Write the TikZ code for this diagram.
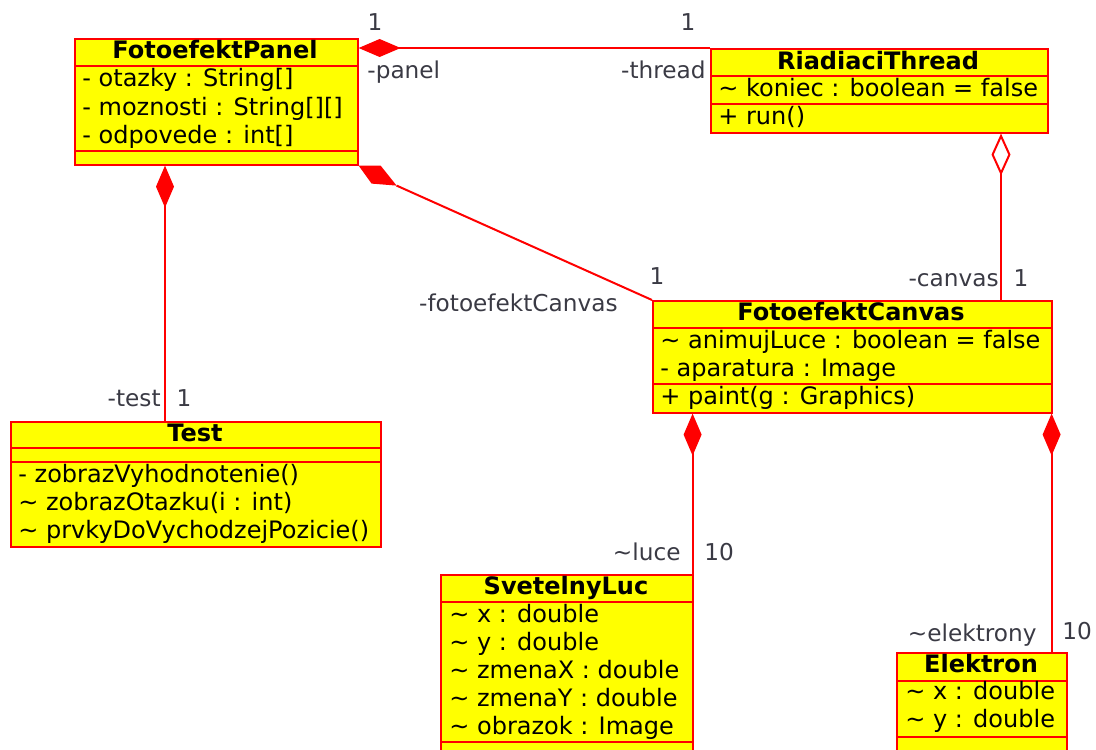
\documentclass[tikz,border=0pt]{standalone}
\usepackage{fontspec}
\setmainfont{DejaVu Sans}
\usetikzlibrary{arrows.meta,calc}
\definecolor{umlred}{RGB}{255,0,0}
\definecolor{umlfill}{RGB}{255,255,0}
\definecolor{rolegray}{RGB}{58,58,68}

\begin{document}
\begin{tikzpicture}[x=0.5pt,y=-0.5pt,
  classbox/.style={draw=umlred,fill=umlfill,line width=0.8pt,inner sep=0pt,anchor=north west,rectangle},
  divider/.style={draw=umlred,line width=0.8pt},
  member/.style={anchor=base west,inner sep=0pt,font=\fontsize{12}{14}\selectfont,text=black},
  cname/.style={anchor=base,inner sep=0pt,font=\fontsize{12}{14}\selectfont\bfseries,text=black},
  role/.style={inner sep=0pt,font=\fontsize{11.6}{14}\selectfont,text=rolegray},
  link/.style={color=umlred,draw=umlred,line width=1pt},
  comp/.style={link,{Diamond[length=21pt,width=9pt,fill=umlred]}-},
  aggr/.style={link,{Diamond[open,length=21pt,width=9.5pt]}-},
]
\useasboundingbox (0,0) rectangle (1096,749);
\clip (0,0) rectangle (1096,749);

% ---------- FotoefektPanel ----------
\node[classbox,minimum width=141.5pt,minimum height=63pt] (panel) at (74,38) {};
\draw[divider] ($(panel.north west)+(0,28)$) -- ($(panel.north east)+(0,28)$);
\draw[divider] ($(panel.north west)+(0,113)$) -- ($(panel.north east)+(0,113)$);
\node[cname] (panel-n) at (215,59) {FotoefektPanel};
\node[member] (panel-a1) at (82,87) {- otazky : String[]};
\node[member] (panel-a2) at (82,115) {- moznosti : String[][]};
\node[member] (panel-a3) at (82,143) {- odpovede : int[]};

% ---------- RiadiaciThread ----------
\node[classbox,minimum width=168.5pt,minimum height=42pt] (thread) at (710,48) {};
\draw[divider] ($(thread.north west)+(0,28)$) -- ($(thread.north east)+(0,28)$);
\draw[divider] ($(thread.north west)+(0,56)$) -- ($(thread.north east)+(0,56)$);
\node[cname] (thread-n) at (878,69) {RiadiaciThread};
\node[member] (thread-a1) at (718,97) {\textasciitilde{} koniec : boolean = false};
\node[member] (thread-m1) at (718,125) {+ run()};

% ---------- FotoefektCanvas ----------
\node[classbox,minimum width=199.5pt,minimum height=56pt] (canvas) at (652,300) {};
\draw[divider] ($(canvas.north west)+(0,28)$) -- ($(canvas.north east)+(0,28)$);
\draw[divider] ($(canvas.north west)+(0,84)$) -- ($(canvas.north east)+(0,84)$);
\node[cname] (canvas-n) at (851,320) {FotoefektCanvas};
\node[member] (canvas-a1) at (660,348) {\textasciitilde{} animujLuce : boolean = false};
\node[member] (canvas-a2) at (660,376) {- aparatura : Image};
\node[member] (canvas-m1) at (660,404) {+ paint(g : Graphics)};

% ---------- Test ----------
\node[classbox,minimum width=185pt,minimum height=62.5pt] (test) at (10,421) {};
\draw[divider] ($(test.north west)+(0,27)$) -- ($(test.north east)+(0,27)$);
\draw[divider] ($(test.north west)+(0,41)$) -- ($(test.north east)+(0,41)$);
\node[cname] (test-n) at (195,441) {Test};
\node[member] (test-m1) at (18,482) {- zobrazVyhodnotenie()};
\node[member] (test-m2) at (18,510) {\textasciitilde{} zobrazOtazku(i : int)};
\node[member] (test-m3) at (18,538) {\textasciitilde{} prvkyDoVychodzejPozicie()};

% ---------- SvetelnyLuc ----------
\node[classbox,minimum width=126pt,minimum height=100pt] (luc) at (440,574) {};
\draw[divider] ($(luc.north west)+(0,28)$) -- ($(luc.north east)+(0,28)$);
\draw[divider] ($(luc.north west)+(0,168)$) -- ($(luc.north east)+(0,168)$);
\node[cname] (luc-n) at (566,594) {SvetelnyLuc};
\node[member] (luc-a1) at (449,622) {\textasciitilde{} x : double};
\node[member] (luc-a2) at (449,650) {\textasciitilde{} y : double};
\node[member] (luc-a3) at (449,678) {\textasciitilde{} zmenaX : double};
\node[member] (luc-a4) at (449,706) {\textasciitilde{} zmenaY : double};
\node[member] (luc-a5) at (449,734) {\textasciitilde{} obrazok : Image};

% ---------- Elektron ----------
\node[classbox,minimum width=85pt,minimum height=65pt] (elektron) at (896,652) {};
\draw[divider] ($(elektron.north west)+(0,29)$) -- ($(elektron.north east)+(0,29)$);
\draw[divider] ($(elektron.north west)+(0,85)$) -- ($(elektron.north east)+(0,85)$);
\node[cname] (elektron-n) at (981,672) {Elektron};
\node[member] (elektron-a1) at (905,699) {\textasciitilde{} x : double};
\node[member] (elektron-a2) at (905,727) {\textasciitilde{} y : double};

% ---------- associations ----------
% panel <>-- thread
\draw[comp] (panel.north east |- thread.north west) -- (thread.north west);
% panel <>-- test
\draw[comp] ($(panel.south west)+(91,0)$) coordinate (pa) -- (pa |- test.north);
% panel <>-- canvas (skewed diamond at the corner)
\fill[umlred] (panel.south east) -- ++(22,0) -- ++(16,20) coordinate (pc) -- ++(-25,-2) -- cycle;
\draw[link] (pc) -- (canvas.north west);
% thread <>-- canvas (aggregation)
\draw[aggr] ($(thread.south west)+(291,0)$) coordinate (tc) -- (tc |- canvas.north);
% canvas <>-- luc
\draw[comp] ($(luc.north east)+(-1,0)$) coordinate (lc) ($(lc |- canvas.south)$) -- (lc);
% canvas <>-- elektron
\draw[comp] ($(canvas.south east)+(-1,0)$) coordinate (ce) -- (ce |- elektron.north);

% ---------- role names and multiplicities ----------
\node[role,anchor=base] (m-panel) at (375,31) {1};
\node[role,anchor=base west] (r-panel) at (367,79) {-panel};
\node[role,anchor=base] (m-thread) at (688,31) {1};
\node[role,anchor=base east] (r-thread) at (706,79) {-thread};
\node[role,anchor=base east] (r-test) at (161,406) {-test};
\node[role,anchor=base] (m-test) at (184,406) {1};
\node[role,anchor=base] (m-fcanvas) at (657,284) {1};
\node[role,anchor=base east] (r-fcanvas) at (618,311) {-fotoefektCanvas};
\node[role,anchor=base east] (r-canvas) at (999,286) {-canvas};
\node[role,anchor=base] (m-canvas) at (1021,286) {1};
\node[role,anchor=base east] (r-luce) at (681,560) {\textasciitilde luce};
\node[role,anchor=base] (m-luce) at (719,560) {10};
\node[role,anchor=base east] (r-elektrony) at (1037,641) {\textasciitilde elektrony};
\node[role,anchor=base] (m-elektrony) at (1077,639) {10};
\end{tikzpicture}
\end{document}
